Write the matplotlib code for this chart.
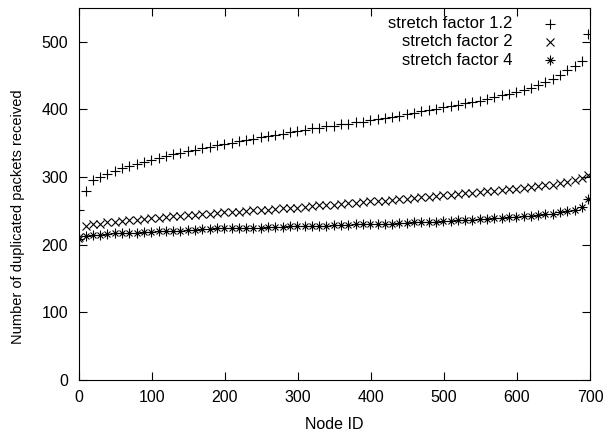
import matplotlib
matplotlib.use('Agg')
import matplotlib.pyplot as plt

plt.rcParams['font.family'] = ['Liberation Sans', 'DejaVu Sans']

# node ids at which a point is plotted
node_ids = [0, 9, 19, 29, 39, 49, 59, 69, 79, 89, 99, 109, 119, 129, 139, 149,
            159, 169, 179, 189, 199, 209, 219, 229, 239, 249, 259, 269, 279,
            289, 299, 309, 319, 329, 339, 349, 359, 369, 379, 389, 399, 409,
            419, 429, 439, 449, 459, 469, 479, 489, 499, 509, 519, 529, 539,
            549, 559, 569, 579, 589, 599, 609, 619, 629, 639, 649, 659, 669,
            679, 689, 697]

# duplicated packets, stretch factor 1.2
dup_12 = [251, 279, 295, 300, 305, 309, 313, 316, 319, 322, 325, 328, 331,
          334, 336, 338, 340, 343, 345, 347, 349, 351, 353, 355, 357, 359,
          361, 362, 364, 366, 368, 370, 372, 373, 375, 376, 378, 379, 381,
          382, 384, 386, 387, 389, 391, 393, 395, 397, 399, 401, 403, 405,
          407, 409, 411, 413, 416, 418, 421, 423, 426, 429, 432, 436, 440,
          445, 451, 458, 464, 472, 511]

# stretch factor 2
dup_2 = [212, 228, 230, 231, 233, 234, 235, 236, 237, 238, 239, 240, 241,
         242, 243, 244, 244, 245, 246, 247, 248, 249, 249, 250, 251, 252,
         252, 253, 254, 255, 255, 256, 257, 258, 258, 259, 260, 261, 262,
         263, 264, 264, 265, 266, 267, 268, 269, 270, 271, 272, 273, 274,
         275, 276, 277, 278, 279, 280, 281, 282, 283, 284, 285, 287, 288,
         289, 291, 293, 295, 298, 303]

# stretch factor 4
dup_4 = [209, 213, 214, 215, 216, 217, 217, 218, 218, 219, 219, 220, 220,
         221, 221, 222, 222, 223, 223, 224, 224, 224, 224, 225, 225, 225,
         226, 226, 226, 227, 227, 227, 228, 228, 228, 229, 229, 229, 230,
         230, 230, 231, 231, 231, 232, 232, 233, 233, 234, 234, 235, 235,
         236, 236, 237, 238, 238, 239, 240, 241, 241, 242, 243, 244, 245,
         246, 248, 250, 252, 256, 267]

labels = ['stretch factor 1.2', 'stretch factor 2', 'stretch factor 4']

fig = plt.figure(figsize=(6.1, 4.36), dpi=100)
ax = fig.add_axes([0.1295, 0.1284, 0.8377, 0.8533])

lw = 0.8
ms = 6.5
ax.plot(node_ids, dup_12, linestyle='none', marker='+', ms=ms, mew=lw, color='black')
ax.plot(node_ids, dup_2, linestyle='none', marker='x', ms=ms - 1, mew=lw, color='black')
# gnuplot "*" point = plus and cross on top of each other
ax.plot(node_ids, dup_4, linestyle='none', marker='+', ms=ms, mew=lw, color='black')
ax.plot(node_ids, dup_4, linestyle='none', marker='x', ms=ms - 1.5, mew=lw, color='black')

# legend, gnuplot style: right aligned text, sample to the right
rows_y = [0.957, 0.909, 0.860]
for i, lab in enumerate(labels):
    ax.text(0.849, rows_y[i], lab, transform=ax.transAxes, ha='right',
            va='center', fontsize=12)
ax.plot([0.922], [rows_y[0]], transform=ax.transAxes, marker='+', ms=ms, mew=lw, color='black')
ax.plot([0.922], [rows_y[1]], transform=ax.transAxes, marker='x', ms=ms - 1, mew=lw, color='black')
ax.plot([0.922], [rows_y[2]], transform=ax.transAxes, marker='+', ms=ms, mew=lw, color='black')
ax.plot([0.922], [rows_y[2]], transform=ax.transAxes, marker='x', ms=ms - 1.5, mew=lw, color='black')

ax.set_xlim(0, 700)
ax.set_ylim(0, 550)
ax.set_xticks(range(0, 701, 100))
ax.set_yticks(range(0, 501, 100))
ax.tick_params(direction='in', length=5.5, width=0.8, top=True, right=True,
               labelsize=11.5, pad=7)
ax.tick_params(axis='y', pad=8)
for s in ax.spines.values():
    s.set_linewidth(0.8)

ax.set_xlabel('Node ID', fontsize=11.5, labelpad=9)
ax.set_ylabel('Number of duplicated packets received', fontsize=10.5)
ax.yaxis.set_label_coords(-0.105, 0.44)

fig.savefig('out.png', dpi=100)
